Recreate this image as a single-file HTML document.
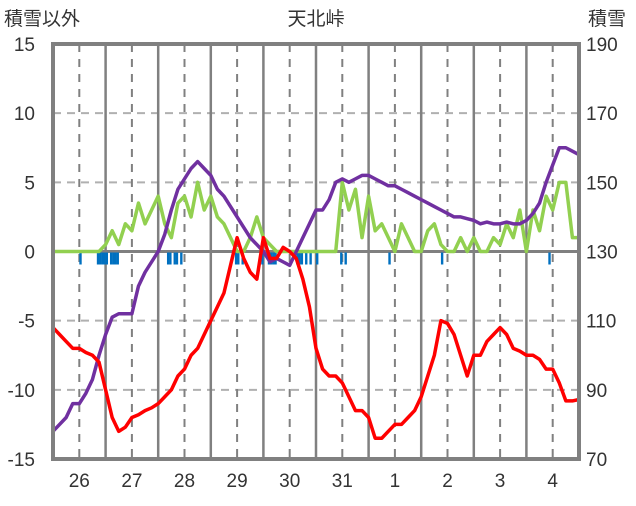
<!DOCTYPE html>
<html><head><meta charset="utf-8"><style>
body{margin:0;background:#fff;font-family:"Liberation Sans","Noto Sans CJK JP",sans-serif}
svg text{font-family:"Liberation Sans","Noto Sans CJK JP",sans-serif;fill:#333}
</style></head><body>
<svg id="c" width="636" height="501"></svg>
<script>
const days=["26","27","28","29","30","31","1","2","3","4"];
const leftTicks=[15,10,5,0,-5,-10,-15];
const rightTicks=[190,170,150,130,110,90,70];
const temp=[-5.5,-6,-6.5,-7,-7,-7.3,-7.5,-8,-10,-12,-13,-12.7,-12,-11.8,-11.5,-11.3,-11,-10.5,-10,-9,-8.5,-7.5,-7,-6,-5,-4,-3,-1,1,-0.5,-1.5,-2,1,-0.5,-0.5,0.3,0,-0.5,-2,-4,-7,-8.5,-9,-9,-9.5,-10.5,-11.5,-11.5,-12,-13.5,-13.5,-13,-12.5,-12.5,-12,-11.5,-10.5,-9,-7.5,-5,-5.2,-6,-7.5,-9,-7.5,-7.5,-6.5,-6,-5.5,-6,-7,-7.2,-7.5,-7.5,-7.8,-8.5,-8.5,-9.5,-10.8,-10.8,-10.7];
const snowDepth=[78,80,82,86,86,89,93,100,106,111,112,112,112,120,124,127,130,135,142,148,151,154,156,154,152,148,146,143,140,137,134,132,130,127,128,127,126,130,134,138,142,142,145,150,151,150,151,152,152,151,150,149,149,148,147,146,145,144,143,142,141,140,140,139.5,139,138,138.5,138,138,138.5,138,138,139,141,144,150,155,160,160,159,158];
const wind=[0,0,0,0,0,0,0,0,0.5,1.5,0.5,2,1.5,3.5,2,3,4,2,1,3.5,4,2.5,5,3,4,2.5,2,1,0,0,1,2.5,1,0.5,0,0,0,0,0,0,0,0,0,0,5,3,4.5,1,4,1.5,2,1,0,2,1,0,0,1.5,2,0.5,0,0,1,0,1,0,0,1,0.5,2,1,3,0,3,1.5,4,3,5,5,1,1];
const precipHours=[12,20,21,22,23,24,26,27,28,29,52,53,55,56,58,83,84,86,95,98,99,100,101,111,112,113,115,117,120,131,133,153,177,226];
const precipVals=[1,1,1,1,1,1,1,1,1,1,1,1,1,1,1,1,1,1,1,1,1,1,1,1,1,1,1,1,1,1,1,1,1,1];

const NS="http://www.w3.org/2000/svg",svg=document.getElementById('c');
const X0=53,X1=579,Y0=44,Y1=459;
const xh=h=>X0+(X1-X0)*h/240;
const yL=v=>Y1-(v+15)/30*(Y1-Y0);
const yR=v=>Y1-(v-70)/120*(Y1-Y0);
function el(t,a,p){const e=document.createElementNS(NS,t);for(const k in a)e.setAttribute(k,a[k]);(p||svg).appendChild(e);return e;}
// grid
leftTicks.forEach(v=>{if(v===15||v===-15)return;const l=el('line',{x1:X0,x2:X1,y1:yL(v),y2:yL(v),stroke:v===0?'#808080':'#b0b0b0','stroke-width':v===0?3:2,'stroke-dasharray':v===0?'':'8,6'});

});
for(let d=0;d<10;d++){
 const xd=xh(d*24+12);
 const l=el('line',{x1:xd,x2:xd,y1:Y0,y2:Y1,stroke:'#808080','stroke-width':2,'stroke-dasharray':'8,7'});
 
 
 if(d>0){const s=el('line',{x1:xh(d*24),x2:xh(d*24),y1:Y0,y2:Y1,stroke:'#808080','stroke-width':2.5});
 
 }
 const t=el('text',{x:xd,y:487,'text-anchor':'middle','font-size':19});t.textContent=days[d];
 
 
}
// precip
precipHours.forEach((h,i)=>{const r=el('rect',{x:xh(h),y:yL(0)+1,width:2.4,height:precipVals[i]*12,fill:'#0070c0'});

});
function line(arr,yf,col,name){const p=el('polyline',{points:arr.map((v,i)=>xh(i*3)+','+yf(v)).join(' '),fill:'none',stroke:col,'stroke-width':3.5,'stroke-linejoin':'round'});

}
line(wind,yL,'#92d050','wind-line');
line(snowDepth,yR,'#7030a0','snow-depth-line');
line(temp,yL,'#ff0000','temperature-line');
// frame
const f=el('rect',{x:X0,y:Y0,width:X1-X0,height:Y1-Y0,fill:'none',stroke:'#808080','stroke-width':4});


leftTicks.forEach(v=>{const t=el('text',{x:35,y:yL(v)+7,'text-anchor':'end','font-size':19});t.textContent=v;

});
rightTicks.forEach(v=>{const t=el('text',{x:586,y:yR(v)+7,'font-size':19});t.textContent=v;

});
const a=el('text',{x:4,y:25,'font-size':19});a.textContent='積雪以外';


const b=el('text',{x:316,y:25,'font-size':19,'text-anchor':'middle'});b.textContent='天北峠';


const c=el('text',{x:588,y:25,'font-size':19});c.textContent='積雪';


</script>
</body></html>
